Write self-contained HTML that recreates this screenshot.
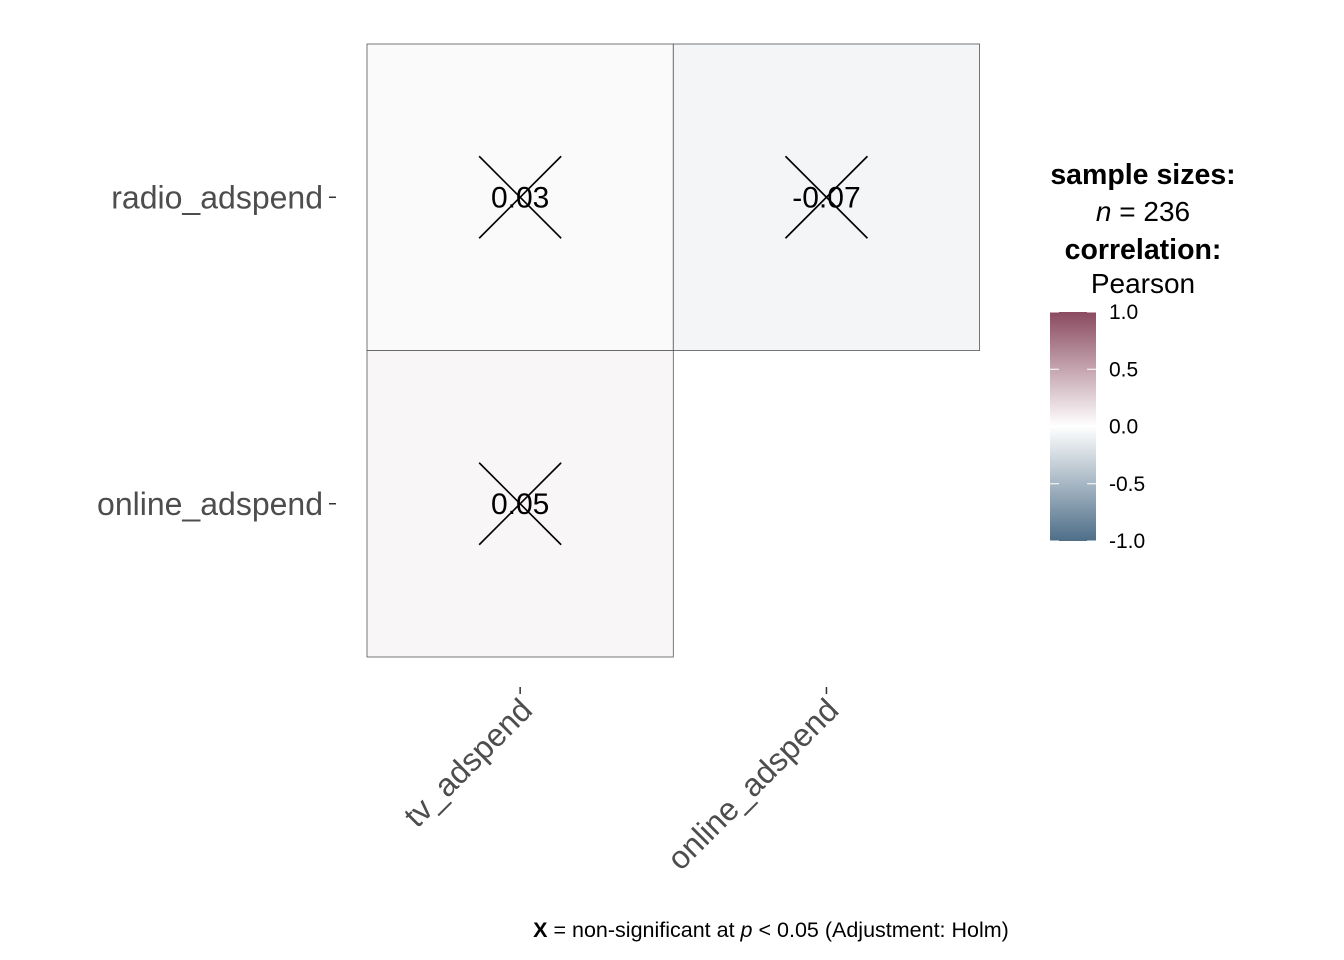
<!DOCTYPE html>
<html><head><meta charset="utf-8">
<style>
html,body{margin:0;padding:0;background:#fff;}
svg{display:block;font-family:"Liberation Sans",sans-serif;}
</style></head>
<body>
<svg id="chart" width="1344" height="960" viewBox="0 0 1344 960">
  <defs>
    <linearGradient id="grad" x1="0" y1="0" x2="0" y2="1">
      <stop offset="0" stop-color="#8a4a60"/>
      <stop offset="0.5" stop-color="#ffffff"/>
      <stop offset="1" stop-color="#4e6e88"/>
    </linearGradient>
  </defs>
  <g id="cells"></g>
  <g id="axes"></g>
  <g>
    <text x="1143" y="184" text-anchor="middle" font-size="28.5" font-weight="bold">sample sizes:</text>
    <text x="1143" y="221" text-anchor="middle" font-size="28"><tspan font-style="italic">n</tspan> = 236</text>
    <text x="1143" y="259" text-anchor="middle" font-size="28.5" font-weight="bold">correlation:</text>
    <text x="1143" y="293" text-anchor="middle" font-size="28">Pearson</text>
    <rect x="1050" y="312" width="46" height="229" fill="url(#grad)"/>
    <g id="legticks"></g>
  </g>
  <text x="771" y="937" text-anchor="middle" font-size="21.5"><tspan font-weight="bold">X</tspan> = non-significant at <tspan font-style="italic">p</tspan> &lt; 0.05 (Adjustment: Holm)</text>
</svg>
<script>
const xCats = ["tv_adspend", "online_adspend"];
const yCats = ["radio_adspend", "online_adspend"];
const cellX = ["tv_adspend", "online_adspend", "tv_adspend"];
const cellY = ["radio_adspend", "radio_adspend", "online_adspend"];
const cellR = [0.03, -0.07, 0.05];
const legendTicks = [1.0, 0.5, 0.0, -0.5, -1.0];

const NS = "http://www.w3.org/2000/svg";
const x0 = 367, cw = 306.3, y0 = 44, ch = 306.5;
const xPos = c => x0 + xCats.indexOf(c) * cw;
const yPos = c => y0 + yCats.indexOf(c) * ch;
const legY = v => 312 + (1 - v) / 2 * 229;
function mix(a, b, t){return a.map((v,i)=>Math.round(v+(b[i]-v)*t));}
function color(r){
  const hi=[138,74,96], lo=[78,110,136], w=[255,255,255];
  const c = r>=0 ? mix(w,hi,r) : mix(w,lo,-r);
  return `rgb(${c[0]},${c[1]},${c[2]})`;
}
function el(tag, attrs, parent){const e=document.createElementNS(NS,tag);for(const k in attrs)e.setAttribute(k,attrs[k]);parent.appendChild(e);return e;}

const cells = document.getElementById("cells");
cellR.forEach((r,i)=>{
  const x = xPos(cellX[i]), y = yPos(cellY[i]);
  const rect = el("rect",{x:x,y:y,width:cw,height:ch,fill:color(r),stroke:"#555","stroke-width":0.8},cells);
  
  
  const cx = x + cw/2, cy = y + ch/2;
  const g = el("g",{},cells);
  
  
  el("line",{x1:cx-41,y1:cy-41,x2:cx+41,y2:cy+41,stroke:"#000","stroke-width":1.6},g);
  el("line",{x1:cx-41,y1:cy+41,x2:cx+41,y2:cy-41,stroke:"#000","stroke-width":1.6},g);
  const t = el("text",{x:cx,y:cy+10,"text-anchor":"middle","font-size":30},cells);
  t.textContent = r.toFixed(2);
  
  
});

const axes = document.getElementById("axes");
yCats.forEach(c=>{
  const y = yPos(c) + ch/2;
  const t = el("text",{x:323,y:y+11,"text-anchor":"end","font-size":32,fill:"#4d4d4d"},axes);
  t.textContent = c;
  
  
  const tk = el("line",{x1:329,y1:y,x2:336,y2:y,stroke:"#333","stroke-width":1.5},axes);
  
  
});
xCats.forEach(c=>{
  const x = xPos(c) + cw/2;
  const tk = el("line",{x1:x,y1:687,x2:x,y2:694,stroke:"#333","stroke-width":1.5},axes);
  
  
  const t = el("text",{x:x+14,y:712,"text-anchor":"end","font-size":32,fill:"#4d4d4d",transform:`rotate(-45 ${x+14} 712)`},axes);
  t.textContent = c;
  
  
});

const lt = document.getElementById("legticks");
legendTicks.forEach(v=>{
  const y = legY(v);
  const a = el("line",{x1:1050,y1:y,x2:1059,y2:y,stroke:"#fff","stroke-width":1},lt);
  
  
  const b = el("line",{x1:1087,y1:y,x2:1096,y2:y,stroke:"#fff","stroke-width":1},lt);
  
  
  const t = el("text",{x:1109,y:y+7,"font-size":21},lt);
  t.textContent = v.toFixed(1);
  
  
});
</script>
</body></html>
